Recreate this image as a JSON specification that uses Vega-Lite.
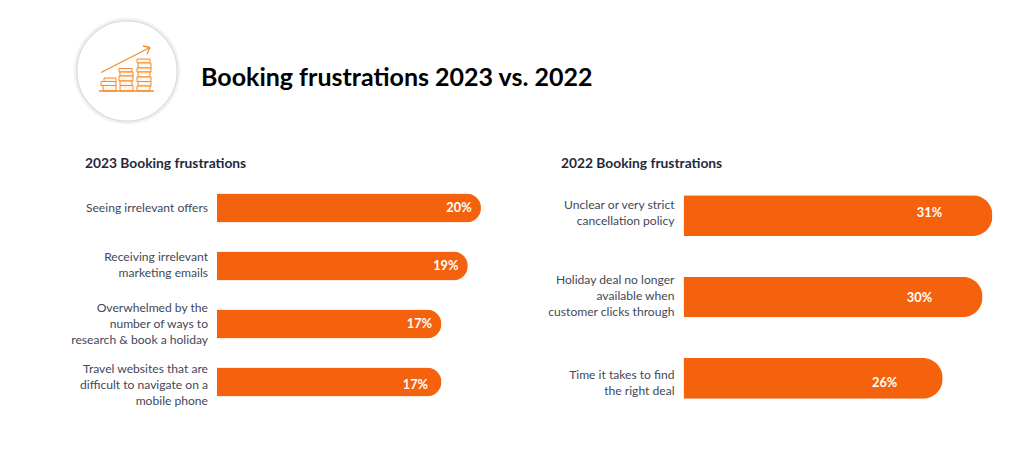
{
"$schema":"https://vega.github.io/schema/vega-lite/v6.json",
"background":"white",
"padding":{"left":67,"top":0,"right":0,"bottom":0},
"spacing":26,
"config":{"view":{"stroke":null},"font":"Lato","title":{"font":"Lato"}},
"vconcat":[
{"width":530,"height":130,
 "title":{"text":"Booking frustrations 2023 vs. 2022","anchor":"start","frame":"group","dx":-16,"dy":91,"offset":0,"fontSize":25,"fontWeight":"bold","color":"#000000","font":"Lato"},
 "layer":[
 {"data":{"values":[{"cx":127,"cy":71}]},"mark":{"type":"point","shape":"circle","filled":false,"size":10500,"stroke":"#eeeeee","strokeWidth":4},
  "encoding":{"x":{"field":"cx","type":"quantitative","scale":{"domain":[217,747],"nice":false,"zero":false},"axis":null},"y":{"field":"cy","type":"quantitative","scale":{"domain":[130,0],"nice":false,"zero":false},"axis":null}}},
 {"data":{"values":[{"cx":127,"cy":71}]},"mark":{"type":"point","shape":"circle","filled":true,"fill":"white","opacity":1,"size":10100,"stroke":"#dedede","strokeWidth":1.5},
  "encoding":{"x":{"field":"cx","type":"quantitative","scale":{"domain":[217,747],"nice":false,"zero":false},"axis":null},"y":{"field":"cy","type":"quantitative","scale":{"domain":[130,0],"nice":false,"zero":false},"axis":null}}},
 {"data":{"values":[
  {"a":104,"b":116,"c":78,"d":81.5},{"a":101,"b":116,"c":81.5,"d":85.5},{"a":103,"b":116,"c":85.5,"d":91},
  {"a":119,"b":132,"c":68.5,"d":72},{"a":120,"b":133,"c":72,"d":76},{"a":119,"b":133,"c":76,"d":81},{"a":120,"b":132,"c":81,"d":85.5},{"a":120,"b":133,"c":85.5,"d":91},
  {"a":137,"b":150,"c":59,"d":63},{"a":138,"b":151,"c":63,"d":68},{"a":137,"b":151,"c":68,"d":72},{"a":138,"b":150,"c":72,"d":77},{"a":137,"b":151,"c":77,"d":81.5},{"a":138,"b":151,"c":81.5,"d":86},{"a":137,"b":150,"c":86,"d":91}]},
  "mark":{"type":"rect","fill":"#fff6ec","stroke":"#f58a2a","strokeWidth":1},
  "encoding":{"x":{"field":"a","type":"quantitative","scale":{"domain":[217,747],"nice":false,"zero":false},"axis":null},"x2":{"field":"b"},"y":{"field":"c","type":"quantitative","scale":{"domain":[130,0],"nice":false,"zero":false},"axis":null},"y2":{"field":"d"}}},
 {"data":{"values":[
  {"a":99,"b":154,"c":91,"d":91},{"a":101,"b":150,"c":72.5,"d":47.5},{"a":143,"b":150,"c":46,"d":47.5},{"a":147,"b":150,"c":54,"d":47.5}]},
  "mark":{"type":"rule","stroke":"#f68b2b","strokeWidth":1.3},
  "encoding":{"x":{"field":"a","type":"quantitative","scale":{"domain":[217,747],"nice":false,"zero":false},"axis":null},"x2":{"field":"b"},"y":{"field":"c","type":"quantitative","scale":{"domain":[130,0],"nice":false,"zero":false},"axis":null},"y2":{"field":"d"}}}
 ]},
{"bounds":"flush","spacing":202.5,"hconcat":[
 {"width":264,"height":240,
  "title":{"text":"2023 Booking frustrations","anchor":"start","frame":"group","dx":-132,"offset":4,"fontSize":13.8,"fontWeight":"bold","color":"#1f2a3d"},
  "data":{"values":[
   {"label":"Seeing irrelevant offers","share":0.20},
   {"label":"Receiving irrelevant|marketing emails","share":0.19},
   {"label":"Overwhelmed by the|number of ways to|research & book a holiday","share":0.17},
   {"label":"Travel websites that are|difficult to navigate on a|mobile phone","share":0.17}]},
  "encoding":{
   "y":{"field":"label","type":"nominal","sort":null,"title":null,"scale":{"paddingInner":0.5,"paddingOuter":0.319},"axis":null},
   "x":{"field":"share","type":"quantitative","scale":{"domain":[0,0.2]},"axis":null}},
  "layer":[
   {"mark":{"type":"bar","color":"#f5620d","cornerRadiusEnd":14.5}},
   {"transform":[{"filter":"indexof(datum.label,'Travel')<0"}],"mark":{"type":"text","color":"white","fontWeight":"bold","fontSize":12.8,"dx":-22},"encoding":{"text":{"field":"share","type":"quantitative","format":".0%"}}},
   {"transform":[{"filter":"indexof(datum.label,'Travel')>=0"}],"mark":{"type":"text","color":"white","fontWeight":"bold","fontSize":12.8,"dx":-26,"dy":3.5},"encoding":{"text":{"field":"share","type":"quantitative","format":".0%"}}},
   {"transform":[{"filter":"indexof(datum.label,'Seeing')>=0"}],"mark":{"type":"text","align":"right","baseline":"middle","lineBreak":"|","lineHeight":16,"fontSize":12.1,"color":"#3f4859","dx":-9},"encoding":{"x":{"datum":0},"text":{"field":"label"}}},
   {"transform":[{"filter":"indexof(datum.label,'Receiving')>=0"}],"mark":{"type":"text","align":"right","baseline":"middle","lineBreak":"|","lineHeight":16,"fontSize":12.1,"color":"#3f4859","dx":-9,"dy":-9.5},"encoding":{"x":{"datum":0},"text":{"field":"label"}}},
   {"transform":[{"filter":"indexof(datum.label,'Overwhelmed')>=0"}],"mark":{"type":"text","align":"right","baseline":"middle","lineBreak":"|","lineHeight":16,"fontSize":12.1,"color":"#3f4859","dx":-9,"dy":-16},"encoding":{"x":{"datum":0},"text":{"field":"label"}}},
   {"transform":[{"filter":"indexof(datum.label,'Travel')>=0"}],"mark":{"type":"text","align":"right","baseline":"middle","lineBreak":"|","lineHeight":16,"fontSize":12.1,"color":"#3f4859","dx":-9,"dy":-12.5},"encoding":{"x":{"datum":0},"text":{"field":"label"}}}
  ]},
 {"width":309,"height":244,
  "title":{"text":"2022 Booking frustrations","anchor":"start","frame":"group","dx":-122.5,"offset":4,"fontSize":13.8,"fontWeight":"bold","color":"#1f2a3d"},
  "data":{"values":[
   {"label":"Unclear or very strict|cancellation policy","share":0.31},
   {"label":"Holiday deal no longer|available when|customer clicks through","share":0.30},
   {"label":"Time it takes to find|the right deal","share":0.26}]},
  "encoding":{
   "y":{"field":"label","type":"nominal","sort":null,"title":null,"scale":{"paddingInner":0.5,"paddingOuter":0.25},"axis":null},
   "x":{"field":"share","type":"quantitative","scale":{"domain":[0,0.31]},"axis":null}},
  "layer":[
   {"mark":{"type":"bar","color":"#f5620d","cornerRadiusEnd":20}},
   {"transform":[{"filter":"datum.share==0.31"}],"mark":{"type":"text","color":"white","fontWeight":"bold","fontSize":12.8,"dx":-63,"dy":-3},"encoding":{"text":{"field":"share","type":"quantitative","format":".0%"}}},
   {"transform":[{"filter":"datum.share==0.30"}],"mark":{"type":"text","color":"white","fontWeight":"bold","fontSize":12.8,"dx":-63,"dy":1},"encoding":{"text":{"field":"share","type":"quantitative","format":".0%"}}},
   {"transform":[{"filter":"datum.share==0.26"}],"mark":{"type":"text","color":"white","fontWeight":"bold","fontSize":12.8,"dx":-58,"dy":4.5},"encoding":{"text":{"field":"share","type":"quantitative","format":".0%"}}},
   {"transform":[{"filter":"datum.share==0.31"}],"mark":{"type":"text","align":"right","baseline":"middle","lineBreak":"|","lineHeight":16,"fontSize":12.1,"color":"#3f4859","dx":-9,"dy":-11},"encoding":{"x":{"datum":0},"text":{"field":"label"}}},
   {"transform":[{"filter":"datum.share==0.30"}],"mark":{"type":"text","align":"right","baseline":"middle","lineBreak":"|","lineHeight":16,"fontSize":12.1,"color":"#3f4859","dx":-9,"dy":-17.5},"encoding":{"x":{"datum":0},"text":{"field":"label"}}},
   {"transform":[{"filter":"datum.share==0.26"}],"mark":{"type":"text","align":"right","baseline":"middle","lineBreak":"|","lineHeight":16,"fontSize":12.1,"color":"#3f4859","dx":-9,"dy":-3.5},"encoding":{"x":{"datum":0},"text":{"field":"label"}}}
  ]}
]}
]}
